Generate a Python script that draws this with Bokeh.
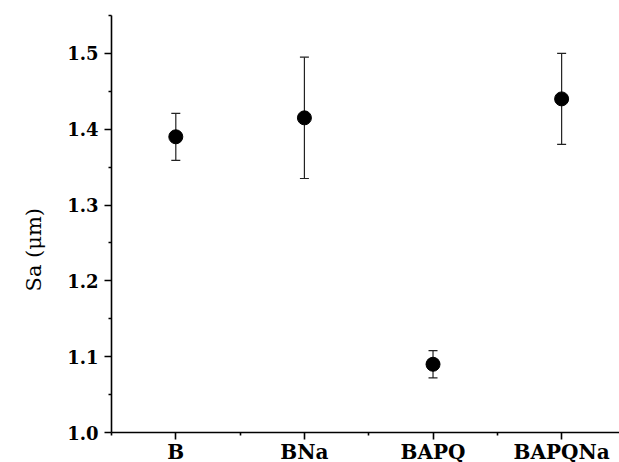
from bokeh.plotting import figure
from bokeh.models import ColumnDataSource, Whisker, TeeHead, FixedTicker, NumeralTickFormatter, Range1d, Title
from bokeh.embed import file_html
from bokeh.resources import INLINE

# Surface roughness per sample
samples = ["B", "BNa", "BAPQ", "BAPQNa"]
sa_mean = [1.39, 1.415, 1.09, 1.44]
sa_err = [0.031, 0.08, 0.018, 0.06]

y_ticks = [1.0, 1.1, 1.2, 1.3, 1.4, 1.5]

xpos = list(range(1, len(samples) + 1))
src = ColumnDataSource(dict(
    x=xpos,
    y=sa_mean,
    lo=[m - e for m, e in zip(sa_mean, sa_err)],
    hi=[m + e for m, e in zip(sa_mean, sa_err)],
))

p = figure(
    frame_width=508, frame_height=417,
    min_border_left=110, min_border_right=1, min_border_top=15, min_border_bottom=30,
    x_range=Range1d(0.5, 4.45), y_range=Range1d(1.0, 1.55),
    output_backend="svg", toolbar_location=None,
)
p.outline_line_color = None
p.xgrid.visible = False
p.ygrid.visible = False
p.background_fill_color = "white"
p.border_fill_color = "white"

whisk = Whisker(source=src, base="x", upper="hi", lower="lo",
                line_color="#222222", line_width=1.2,
                upper_head=TeeHead(size=9, line_color="#222222", line_width=1.2),
                lower_head=TeeHead(size=9, line_color="#222222", line_width=1.2))
p.add_layout(whisk)
p.scatter("x", "y", source=src, size=14, color="black")

serif = "DejaVu Serif"

# x axis: one tick per sample, minor ticks between
p.xaxis.ticker = FixedTicker(ticks=xpos, minor_ticks=[0.5, 1.5, 2.5, 3.5])
p.xaxis.major_label_overrides = {i: s for i, s in zip(xpos, samples)}
p.xaxis.major_label_text_font = serif
p.xaxis.major_label_text_font_style = "bold"
p.xaxis.major_label_text_font_size = "20px"
p.xaxis.major_label_standoff = 0

# y axis
p.yaxis.ticker = FixedTicker(ticks=y_ticks, minor_ticks=[1.05, 1.15, 1.25, 1.35, 1.45, 1.55])
p.yaxis.formatter = NumeralTickFormatter(format="0.0")
p.yaxis.major_label_text_font = serif
p.yaxis.major_label_text_font_style = "bold"
p.yaxis.major_label_text_font_size = "18px"
p.yaxis.major_label_standoff = 6

# y axis title, set a little below the middle of the axis
ytitle = Title(text="Sa (μm)", align="left", offset=141, standoff=38,
               text_font=serif, text_font_size="21px", text_font_style="normal",
               text_color="black")
p.add_layout(ytitle, "left")

for ax in (p.xaxis, p.yaxis):
    ax.axis_line_width = 1.6
    ax.axis_line_color = "black"
    ax.major_tick_line_width = 1.6
    ax.minor_tick_line_width = 1.6
    ax.major_tick_line_color = "black"
    ax.minor_tick_line_color = "black"
    ax.major_tick_out = 7
    ax.major_tick_in = 0
    ax.minor_tick_out = 3
    ax.minor_tick_in = 0
    ax.major_label_text_color = "black"

open("out.html", "w").write(file_html(p, INLINE))
